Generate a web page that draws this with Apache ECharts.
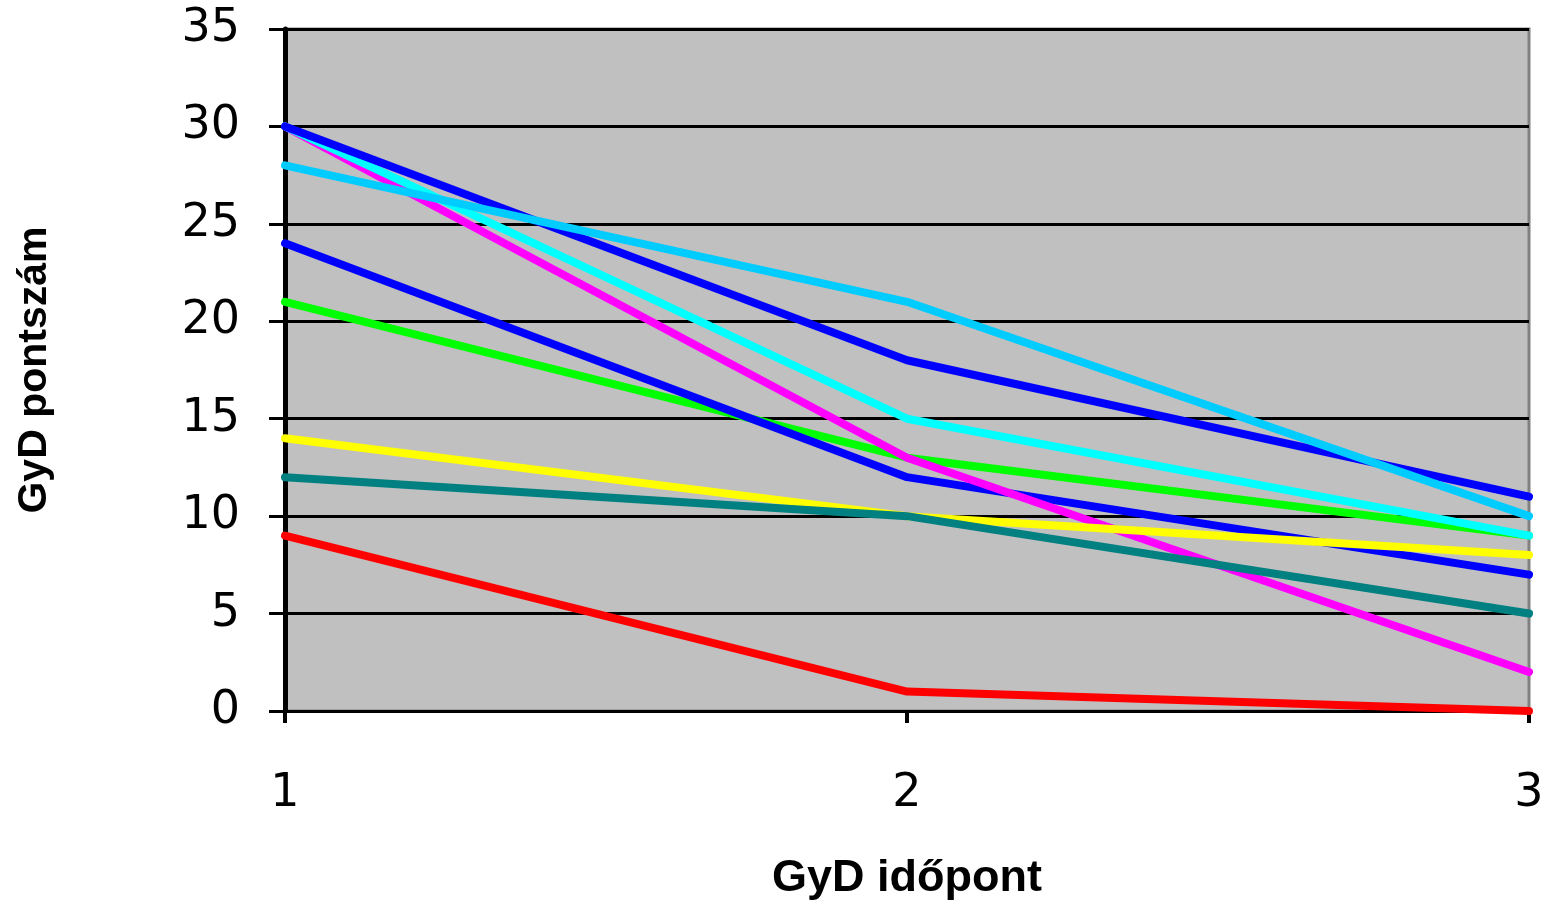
<!DOCTYPE html>
<html>
<head>
<meta charset="utf-8">
<script src="https://cdn.jsdelivr.net/npm/echarts@6/dist/echarts.min.js"></script>
<style>html,body{margin:0;padding:0;background:#fff}#c{width:1562px;height:900px}</style>
</head>
<body>
<div id="c"></div>
<script>
const categories = ['1', '2', '3'];
const yTicks = [0, 5, 10, 15, 20, 25, 30, 35];
// bottom-to-top drawing order
const red = [9, 1, 0];
const green = [21, 13, 9];
const blue2 = [24, 12, 7];
const magenta = [30, 13, 2];
const yellow = [14, 10, 8];
const teal = [12, 10, 5];
const cyan = [30, 15, 9];
const blue1 = [30, 18, 11];
const skyblue = [28, 21, 10];

const seriesDefs = [
  ['red', red, '#FF0000'],
  ['green', green, '#00FF00'],
  ['blue2', blue2, '#0000FF'],
  ['magenta', magenta, '#FF00FF'],
  ['yellow', yellow, '#FFFF00'],
  ['teal', teal, '#008080'],
  ['cyan', cyan, '#00FFFF'],
  ['blue1', blue1, '#0000FF'],
  ['skyblue', skyblue, '#00CCFF']
];

const chart = echarts.init(document.getElementById('c'), null, {renderer: 'canvas'});
chart.setOption({
  animation: false,
  backgroundColor: '#ffffff',
  grid: {
    left: 285, right: 33, top: 29, bottom: 189,
    containLabel: false, outerBoundsMode: 'none',
    show: true, backgroundColor: '#C0C0C0', borderColor: '#808080', borderWidth: 3
  },
  xAxis: {
    type: 'category',
    data: categories,
    boundaryGap: false,
    name: 'GyD időpont',
    nameLocation: 'middle',
    nameGap: 145,
    nameTextStyle: {fontFamily: 'Liberation Sans', fontWeight: 'bold', fontSize: 45, color: '#000'},
    axisLine: {show: true, lineStyle: {color: '#000', width: 3}},
    axisTick: {show: true, length: 12, lineStyle: {color: '#000', width: 4}},
    axisLabel: {margin: 60, fontFamily: 'DejaVu Sans', fontSize: 46, color: '#000'},
    splitLine: {show: false}
  },
  yAxis: {
    type: 'value',
    min: 0, max: 35, interval: 5,
    name: 'GyD pontszám',
    nameLocation: 'middle',
    nameGap: 230,
    nameTextStyle: {fontFamily: 'Liberation Sans', fontWeight: 'bold', fontSize: 41, color: '#000'},
    axisLine: {show: true, lineStyle: {color: '#000', width: 5}},
    axisTick: {show: true, length: 16, lineStyle: {color: '#000', width: 3}},
    axisLabel: {margin: 45, fontFamily: 'DejaVu Sans', fontSize: 46, color: '#000',
      formatter: v => yTicks.includes(v) ? String(v) : ''},
    splitLine: {show: true, lineStyle: {color: '#000', width: 3}}
  },
  series: seriesDefs.map(([name, data, color]) => ({
    name, type: 'line', data,
    showSymbol: false, symbol: 'none',
    lineStyle: {color, width: 8, cap: 'round', join: 'round'},
    itemStyle: {color}
  }))
});
</script>
</body>
</html>
